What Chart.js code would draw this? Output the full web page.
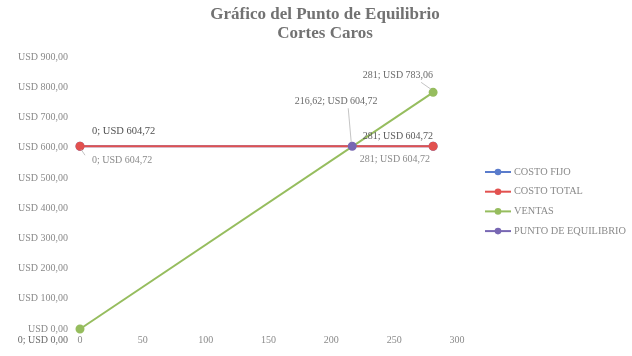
<!DOCTYPE html>
<html>
<head>
<meta charset="utf-8">
<script src="https://cdn.jsdelivr.net/npm/chart.js@4.4.1/dist/chart.umd.min.js"></script>
<style>
  html, body { margin: 0; padding: 0; background: #ffffff; }
  #wrap { width: 632px; height: 356px; }
</style>
</head>
<body>
<div id="wrap"><canvas id="c" width="632" height="356"></canvas></div>
<script>
// Break-even chart data
const titleLines = ['Gráfico del Punto de Equilibrio', 'Cortes Caros'];
const seriesNames = ['COSTO FIJO', 'COSTO TOTAL', 'VENTAS', 'PUNTO DE EQUILIBRIO'];
const costoFijoX = [0, 281];
const costoFijoY = [604.72, 604.72];
const costoTotalX = [0, 281];
const costoTotalY = [604.72, 604.72];
const ventasX = [0, 281];
const ventasY = [0, 783.06];
const equilibrioX = [216.62];
const equilibrioY = [604.72];
const xTickValues = [0, 50, 100, 150, 200, 250, 300];
const yTickValues = [0, 100, 200, 300, 400, 500, 600, 700, 800, 900];

const seriesColors = ['#5a7ccc', '#e2514f', '#96bd5e', '#7867b3'];
const FONT = "'Liberation Serif', 'Times New Roman', serif";

const fmtX = v => Number.isInteger(v) ? String(v) : v.toFixed(2).replace('.', ',');
const fmtUSD = v => 'USD ' + v.toFixed(2).replace('.', ',');
const pts = (xs, ys) => xs.map((x, i) => ({ x: x, y: ys[i] }));

// Placement of the value labels next to their points (pixel offsets)
const labelPlacement = [
  { ds: 1, i: 0, dx: 12, dy: -15, align: 'left', color: '#505050', size: 10.5 },
  { ds: 0, i: 0, dx: 12, dy: 14, align: 'left', color: '#8a8a8a', size: 10, leader: [[1, 3], [5, 9]] },
  { ds: 1, i: 1, dx: 0, dy: -10, align: 'right', color: '#5a5a5a', size: 10 },
  { ds: 0, i: 1, dx: -3, dy: 13, align: 'right', color: '#8a8a8a', size: 10 },
  { ds: 2, i: 1, dx: 0, dy: -17, align: 'right', color: '#6a6a6a', size: 10, leader: [[-2, -3], [-12, -10]] },
  { ds: 2, i: 0, dx: -12, dy: 11, align: 'right', color: '#6a6a6a', size: 10 },
  { ds: 3, i: 0, dx: -16, dy: -45, align: 'center', color: '#6a6a6a', size: 10, leader: [[-1, -4], [-4, -38]] }
];

const valueLabels = {
  id: 'valueLabels',
  afterDatasetsDraw(chart) {
    const ctx = chart.ctx;
    ctx.save();
    labelPlacement.forEach(p => {
      const el = chart.getDatasetMeta(p.ds).data[p.i];
      const raw = chart.data.datasets[p.ds].data[p.i];
      if (p.leader) {
        ctx.strokeStyle = '#b5b5b5';
        ctx.lineWidth = 0.8;
        ctx.beginPath();
        ctx.moveTo(el.x + p.leader[0][0], el.y + p.leader[0][1]);
        ctx.lineTo(el.x + p.leader[1][0], el.y + p.leader[1][1]);
        ctx.stroke();
      }
      ctx.font = p.size + 'px ' + FONT;
      ctx.fillStyle = p.color;
      ctx.textAlign = p.align;
      ctx.textBaseline = 'middle';
      ctx.fillText(fmtX(raw.x) + '; ' + fmtUSD(raw.y), el.x + p.dx, el.y + p.dy);
    });
    ctx.restore();
  }
};

// Title and right-hand legend
const decorations = {
  id: 'decorations',
  afterDraw(chart) {
    const ctx = chart.ctx;
    ctx.save();
    ctx.fillStyle = '#727272';
    ctx.font = 'bold 17px ' + FONT;
    ctx.textAlign = 'center';
    ctx.textBaseline = 'middle';
    ctx.fillText(titleLines[0], 325, 15);
    ctx.fillText(titleLines[1], 325, 34);

    const lx = 485, lw = 26, ly0 = 172, step = 19.7;
    chart.data.datasets.forEach((ds, k) => {
      const y = ly0 + k * step;
      ctx.strokeStyle = ds.borderColor;
      ctx.lineWidth = 2;
      ctx.beginPath();
      ctx.moveTo(lx, y);
      ctx.lineTo(lx + lw, y);
      ctx.stroke();
      ctx.fillStyle = ds.borderColor;
      ctx.beginPath();
      ctx.arc(lx + lw / 2, y, 3.3, 0, Math.PI * 2);
      ctx.fill();
      ctx.fillStyle = '#8a8a8a';
      ctx.font = '10.3px ' + FONT;
      ctx.textAlign = 'left';
      ctx.fillText(ds.label, lx + lw + 3, y);
    });
    ctx.restore();
  }
};

const makeSet = (k, data, order) => ({
  label: seriesNames[k],
  data: data,
  showLine: true,
  clip: false,
  borderColor: seriesColors[k],
  backgroundColor: seriesColors[k],
  pointBackgroundColor: seriesColors[k],
  pointBorderColor: seriesColors[k],
  borderWidth: 2,
  pointRadius: 3.5,
  pointHoverRadius: 3.5,
  order: order
});

new Chart(document.getElementById('c'), {
  type: 'scatter',
  data: {
    datasets: [
      makeSet(0, pts(costoFijoX, costoFijoY), 4),
      makeSet(1, pts(costoTotalX, costoTotalY), 3),
      makeSet(2, pts(ventasX, ventasY), 2),
      makeSet(3, pts(equilibrioX, equilibrioY), 1)
    ]
  },
  options: {
    responsive: false,
    animation: false,
    layout: { padding: { left: 0, right: 175, top: 57, bottom: 0 } },
    plugins: {
      legend: { display: false },
      title: { display: false },
      tooltip: { enabled: false }
    },
    scales: {
      x: {
        type: 'linear',
        min: xTickValues[0],
        max: xTickValues[xTickValues.length - 1],
        afterBuildTicks: s => { s.ticks = xTickValues.map(v => ({ value: v })); },
        afterFit: s => { s.height = 27; },
        grid: { display: false, drawTicks: false },
        border: { display: false },
        ticks: {
          padding: 5,
          color: '#8a8a8a',
          font: { family: FONT, size: 10 },
          maxRotation: 0,
          callback: v => fmtX(v)
        }
      },
      y: {
        type: 'linear',
        min: yTickValues[0],
        max: yTickValues[yTickValues.length - 1],
        afterBuildTicks: s => { s.ticks = yTickValues.map(v => ({ value: v })); },
        afterFit: s => { s.width = 80; },
        grid: { display: false, drawTicks: false },
        border: { display: false },
        ticks: {
          padding: 12,
          color: '#8a8a8a',
          font: { family: FONT, size: 10 },
          callback: v => fmtUSD(v)
        }
      }
    }
  },
  plugins: [valueLabels, decorations]
});
</script>
</body>
</html>
